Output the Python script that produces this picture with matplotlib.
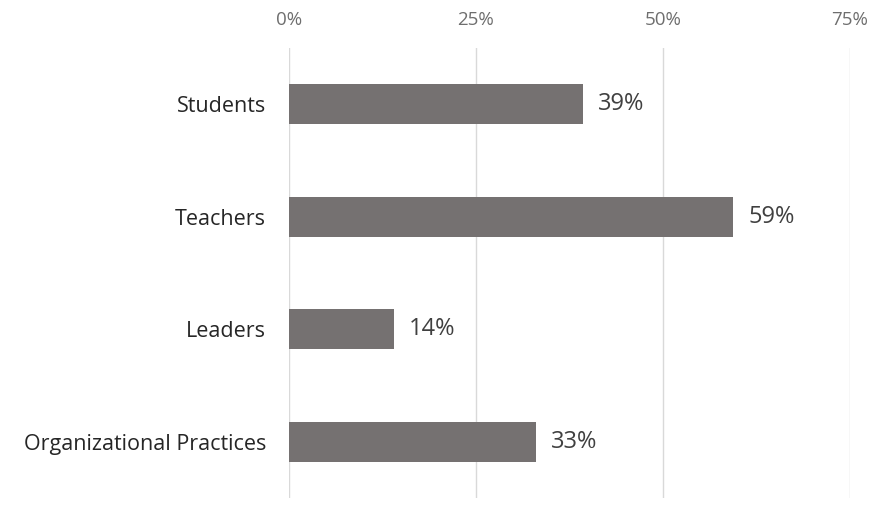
import matplotlib
matplotlib.use("Agg")
import matplotlib.pyplot as plt
from matplotlib.ticker import FuncFormatter

categories = ["Students", "Teachers", "Leaders", "Organizational Practices"]
values = [39.3, 59.4, 14.0, 33.0]
xticks = [0, 25, 50, 75]

plt.rcParams['font.family'] = ['Open Sans', 'DejaVu Sans']

fig = plt.figure(figsize=(8.86, 5.19), dpi=100)
ax = fig.add_axes([289/886, 1-498/519, (850-289)/886, 450/519])

y = list(range(len(categories)))
ax.barh(y, values, height=0.356, color="#757171", zorder=3)
ax.set_xlim(0, 75)
ax.set_ylim(len(categories)-0.5, -0.5)
ax.set_xticks(xticks)
ax.xaxis.set_major_formatter(FuncFormatter(lambda v, p: f"{v:.0f}%"))
ax.xaxis.tick_top()
ax.tick_params(axis='x', length=0, pad=14, labelsize=13.5, labelcolor="#6e6e6e")
ax.set_yticks(y)
ax.set_yticklabels(categories)
ax.tick_params(axis='y', length=0, pad=16.5, labelsize=15.5, labelcolor="#262626")
ax.grid(axis='x', color="#d9d9d9", linewidth=1, zorder=0)
for s in ax.spines.values():
    s.set_visible(False)

for yi, v in zip(y, values):
    ax.annotate(f"{round(v):d}%", xy=(v, yi), xytext=(11, 0), textcoords="offset points",
                va="center", ha="left", fontsize=17, color="#404040")

fig.savefig("out.png", dpi=100)
